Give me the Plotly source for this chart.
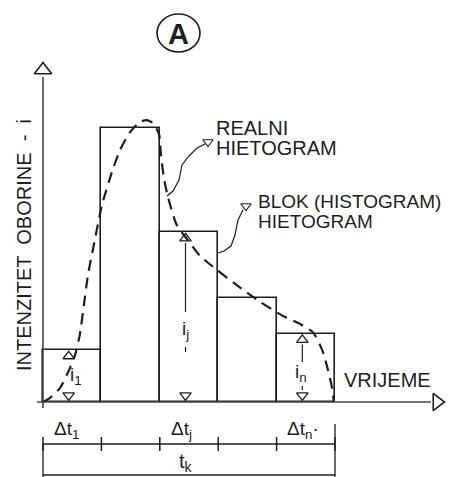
import numpy as np
import plotly.graph_objects as go

# ---------------- data ----------------
INTERVAL_LABELS = ["Δt<sub>1</sub>", "", "Δt<sub>j</sub>", "", "Δt<sub>n</sub>·"]
DT = [1, 1, 1, 1, 1]                      # block durations (time units)
BLOCK_I = [19, 100, 62, 38, 25]           # block hyetograph intensities
BLOCK_TAGS = ["i<sub>1</sub>", None, "i<sub>j</sub>", None, "i<sub>n</sub>"]

REAL_T = [0, 0.12, 0.29, 0.43, 0.55, 0.63, 0.70, 0.77, 0.87, 1.01, 1.18, 1.32,
          1.49, 1.66, 1.78, 1.90, 1.99, 2.02, 2.07, 2.14, 2.29, 2.48, 2.69,
          2.98, 3.29, 3.72, 4.11, 4.40, 4.62, 4.78, 4.88, 4.95, 4.98]
REAL_I = [0, 1.5, 5.1, 10.9, 17.2, 24.5, 35.4, 46.4, 57.3, 71.9, 83.9, 92.0,
          98.5, 102.2, 102.9, 101.5, 97.4, 90.1, 81.8, 74.8, 64.6, 59.1, 53.3,
          48.2, 43.1, 36.5, 31.4, 28.5, 25.5, 19.0, 11.7, 5.1, 0]

# ---------------- geometry helpers (page pixels -> data units) ----------------
W, H = 450, 477
X0PX, PXT = 43, 58.4
BASEPX, PXI = 402, 2.74


def tx(px):
    return (px - X0PX) / PXT


def iy(py):
    return (BASEPX - py) / PXI


INK = "#1e1e1e"
FONT = "Liberation Sans"

edges = np.concatenate([[0], np.cumsum(DT)])
centers = (edges[:-1] + edges[1:]) / 2
T_END = edges[-1]

fig = go.Figure()

# blocks
fig.add_trace(go.Bar(x=centers, y=BLOCK_I, width=DT,
                     marker=dict(color="rgba(0,0,0,0)", line=dict(color=INK, width=1.6)),
                     hoverinfo="skip"))

# real hyetograph (dashed)
fig.add_trace(go.Scatter(x=REAL_T, y=REAL_I, mode="lines",
                         line=dict(color=INK, width=2.2, dash="11px,7px", shape="spline", smoothing=0.6),
                         hoverinfo="skip"))

shapes = []
annotations = []


def seg(x0, y0, x1, y1, w=1.4, color=INK):
    shapes.append(dict(type="line", xref="x", yref="y", x0=x0, y0=y0, x1=x1, y1=y1,
                       line=dict(color=color, width=w)))


def txt(x, y, s, size=19, xanchor="center", angle=0, family=FONT):
    annotations.append(dict(x=x, y=y, xref="x", yref="y", text=s, showarrow=False,
                            xanchor=xanchor, yanchor="middle", textangle=angle,
                            font=dict(family=family, size=size, color=INK)))


# axes
seg(tx(37), 0, tx(431), 0, w=1.6, color="#444")
seg(0, iy(408), 0, iy(77), w=1.6, color="#444")
fig.add_trace(go.Scatter(x=[0], y=[iy(70)], mode="markers",
                         marker=dict(symbol="triangle-up-open", size=15, color=INK, line=dict(width=1.6)),
                         hoverinfo="skip"))
fig.add_trace(go.Scatter(x=[tx(437)], y=[0], mode="markers",
                         marker=dict(symbol="triangle-right-open", size=15, color=INK, line=dict(width=1.6)),
                         hoverinfo="skip"))

# intensity marks inside the blocks
up_x, up_y, dn_x, dn_y = [], [], [], []
for c, v, tag in zip(centers, BLOCK_I, BLOCK_TAGS):
    if tag is None:
        continue
    xc = c - 0.06
    up_x.append(xc); up_y.append(v - 2.3)
    dn_x.append(xc); dn_y.append(2.4)
    if v > 40:
        seg(xc, v - 4, xc, iy(312), w=1.2)
        txt(xc, iy(330), tag, size=19)
        seg(xc, iy(347), xc, iy(352), w=1.2)
    elif v > 22:
        seg(xc, v - 4, xc, iy(362), w=1.2)
        txt(xc - 0.03, iy(373), tag, size=19)
        seg(xc, iy(386), xc, iy(390), w=1.2)
    else:
        txt(xc + 0.12, iy(376), tag, size=19)

fig.add_trace(go.Scatter(x=up_x, y=up_y, mode="markers",
                         marker=dict(symbol="triangle-up-open", size=10, color=INK, line=dict(width=1.3)),
                         hoverinfo="skip"))
fig.add_trace(go.Scatter(x=dn_x, y=dn_y, mode="markers",
                         marker=dict(symbol="triangle-down-open", size=10, color=INK, line=dict(width=1.3)),
                         hoverinfo="skip"))

# dimension lines below
y_row1, y_row2 = iy(444), iy(475)
seg(0, y_row1, T_END, y_row1, w=1.3)
seg(0, y_row2, T_END, y_row2, w=1.3)
seg(0, y_row1, 0, iy(477), w=1.3)
seg(T_END, iy(424), T_END, iy(477), w=1.3)
fig.add_trace(go.Scatter(x=edges, y=[y_row1] * len(edges), mode="markers",
                         marker=dict(symbol="line-ns-open", size=10, color=INK, line=dict(width=1.5)),
                         hoverinfo="skip"))
for c, lab in zip(centers, INTERVAL_LABELS):
    if lab:
        txt(c - 0.5 + 0.15, iy(430), lab, size=19, xanchor="left")
txt(T_END / 2 - 0.05, iy(462), "t<sub>k</sub>", size=20)

# labels
txt(tx(24), iy(245), "INTENZITET  OBORINE  -  i", size=20, angle=-90)
txt(tx(342), iy(380), "VRIJEME", size=20, xanchor="left")
txt(tx(214), iy(128), "REALNI", size=20, xanchor="left")
txt(tx(214), iy(148), "HIETOGRAM", size=20, xanchor="left")
txt(tx(256), iy(201), "BLOK (HISTOGRAM)", size=19, xanchor="left")
txt(tx(256), iy(221), "HIETOGRAM", size=19, xanchor="left")

# leaders
def leader(pts):
    path = "M " + " L ".join(f"{tx(a):.4f},{iy(b):.4f}" for a, b in pts)
    shapes.append(dict(type="path", xref="x", yref="y", path=path,
                       line=dict(color=INK, width=1.2)))

leader([(205, 144), (197, 148), (189, 156), (182, 165), (179, 180), (173, 191), (167, 196)])
leader([(243, 210), (238, 220), (235, 235), (231, 246), (224, 251), (218, 253)])
fig.add_trace(go.Scatter(x=[tx(208), tx(246)], y=[iy(142), iy(206)], mode="markers",
                         marker=dict(symbol="triangle-down-open", size=9, color=INK, line=dict(width=1.2)),
                         hoverinfo="skip"))

# circled A
shapes.append(dict(type="circle", xref="x", yref="y", x0=tx(157), x1=tx(200), y0=iy(52), y1=iy(14),
                   line=dict(color=INK, width=1.6)))
txt(tx(178.5), iy(34), "<b>A</b>", size=29)

fig.update_layout(
    width=W, height=H, margin=dict(l=0, r=0, t=0, b=0),
    paper_bgcolor="white", plot_bgcolor="white", showlegend=False,
    xaxis=dict(range=[tx(0), tx(W)], visible=False, fixedrange=True),
    yaxis=dict(range=[iy(H), iy(0)], visible=False, fixedrange=True),
    shapes=shapes, annotations=annotations, bargap=0,
)

fig.write_html("out.html", config={"displayModeBar": False},
               post_script="document.body.style.margin='0';document.body.style.overflow='hidden';")
